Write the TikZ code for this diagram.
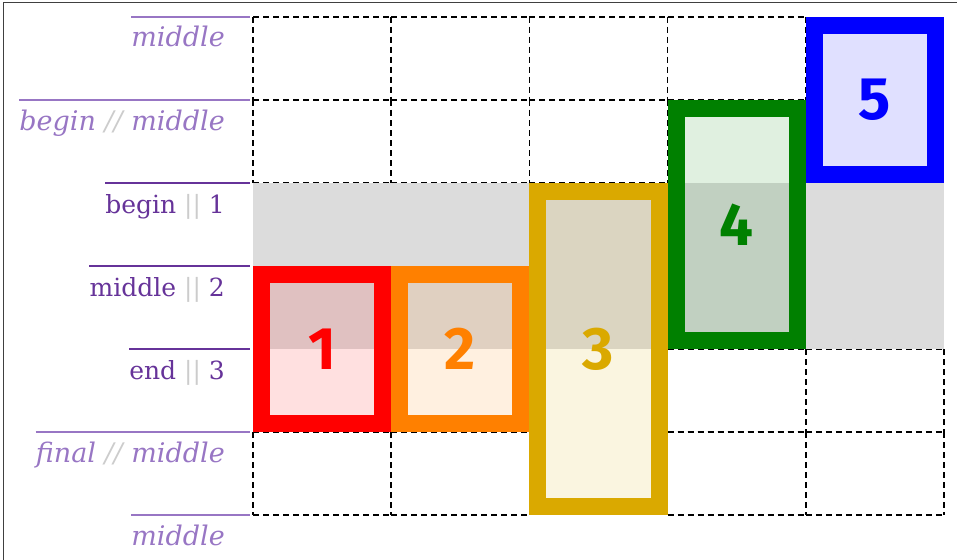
\documentclass[tikz,border=0pt]{standalone}
\usepackage{fontspec}
\setmainfont{DejaVu Serif}
\newfontfamily\numfont{Fira Sans}
\usepackage{xcolor}
\usetikzlibrary{positioning, calc}

\definecolor{lpurple}{RGB}{152,118,196}
\definecolor{dpurple}{RGB}{102,51,153}
\definecolor{sepgray}{RGB}{204,204,204}
\definecolor{bandgray}{RGB}{220,220,220}
\definecolor{cred}{RGB}{255,0,0}
\definecolor{corange}{RGB}{255,128,0}
\definecolor{cgold}{RGB}{218,169,0}
\definecolor{cgreen}{RGB}{0,128,0}
\definecolor{cblue}{RGB}{0,0,255}

\newcommand{\dsep}{\textcolor{sepgray}{//}}
\newcommand{\psep}{\textcolor{sepgray}{||}}

\begin{document}
\begin{tikzpicture}[x=1pt, y=-1pt,
  cell/.style={draw=black, dash pattern=on 6pt off 4pt, line width=1.6pt},
  band/.style={fill=bandgray, draw=none},
  lab/.style={inner sep=0pt, anchor=base east, font=\fontsize{25}{30}\selectfont},
  labi/.style={lab, text=lpurple, font=\fontsize{27}{30}\selectfont\itshape},
  labn/.style={lab, text=dpurple},
  ruleline/.style={line width=1.5pt},
  item/.style={rectangle, draw=#1, fill=#1, fill opacity=0.12, text opacity=1,
             text=#1, line width=17pt, inner sep=0pt, minimum width=121.2pt,
             font=\numfont\bfseries\fontsize{60}{60}\selectfont},
]
\useasboundingbox (0,0) rectangle (957,559);
\draw[line width=1pt, black!75] (3,3) rectangle (980,580);

% ---- dashed cells ----
\foreach \c/\r in {0/0,1/0,2/0,3/0, 0/1,1/1,2/1, 3/4,4/4, 0/5,1/5,3/5,4/5}
  \draw[cell] (253+138.2*\c, 17+83*\r) -- ++(138.2,0)
              (253+138.2*\c, 100+83*\r) -- ++(138.2,0)
              (253+138.2*\c, 17+83*\r) -- ++(0,83)
              (391.2+138.2*\c, 17+83*\r) -- ++(0,83);

% ---- band ----
\fill[band] (253,183) rectangle (944,349);

% ---- row rules ----
\coordinate (r0) at (250,17);
\coordinate (r1) at (250,100);
\coordinate (r2) at (250,183);
\coordinate (r3) at (250,266);
\coordinate (r4) at (250,349);
\coordinate (r5) at (250,432);
\coordinate (r6) at (250,515);

\node[labi] (l0) at ([shift={(-25,30)}]r0) {middle};
\node[labi] (l1) at ([shift={(-25,30)}]r1) {begin \dsep{} middle};
\node[labn] (l2) at ([shift={(-25,30)}]r2) {begin \psep{} 1};
\node[labn] (l3) at ([shift={(-25,30)}]r3) {middle \psep{} 2};
\node[labn] (l4) at ([shift={(-25,30)}]r4) {end \psep{} 3};
\node[labi] (l5) at ([shift={(-25,30)}]r5) {final \dsep{} middle};
\node[labi] (l6) at ([shift={(-25,30)}]r6) {middle};

\draw[ruleline, lpurple] (l0.west |- r0) -- (r0);
\draw[ruleline, lpurple] (l1.west |- r1) -- (r1);
\draw[ruleline, dpurple] (l2.west |- r2) -- (r2);
\draw[ruleline, dpurple] (l3.west |- r3) -- (r3);
\draw[ruleline, dpurple] (l4.west |- r4) -- (r4);
\draw[ruleline, lpurple] (l5.west |- r5) -- (r5);
\draw[ruleline, lpurple] (l6.west |- r6) -- (r6);

% ---- items ----
\node[item=cred, minimum height=149pt]    (b1) at (322.1,349)  {1};
\node[item=corange, minimum height=149pt] (b2) at (460.3,349)  {2};
\node[item=cgold, minimum height=315pt]   (b3) at (598.5,349)  {3};
\node[item=cgreen, minimum height=232pt]  (b4) at (736.7,224.5) {4};
\node[item=cblue, minimum height=149pt]   (b5) at (874.9,100)  {5};

\end{tikzpicture}
\end{document}
